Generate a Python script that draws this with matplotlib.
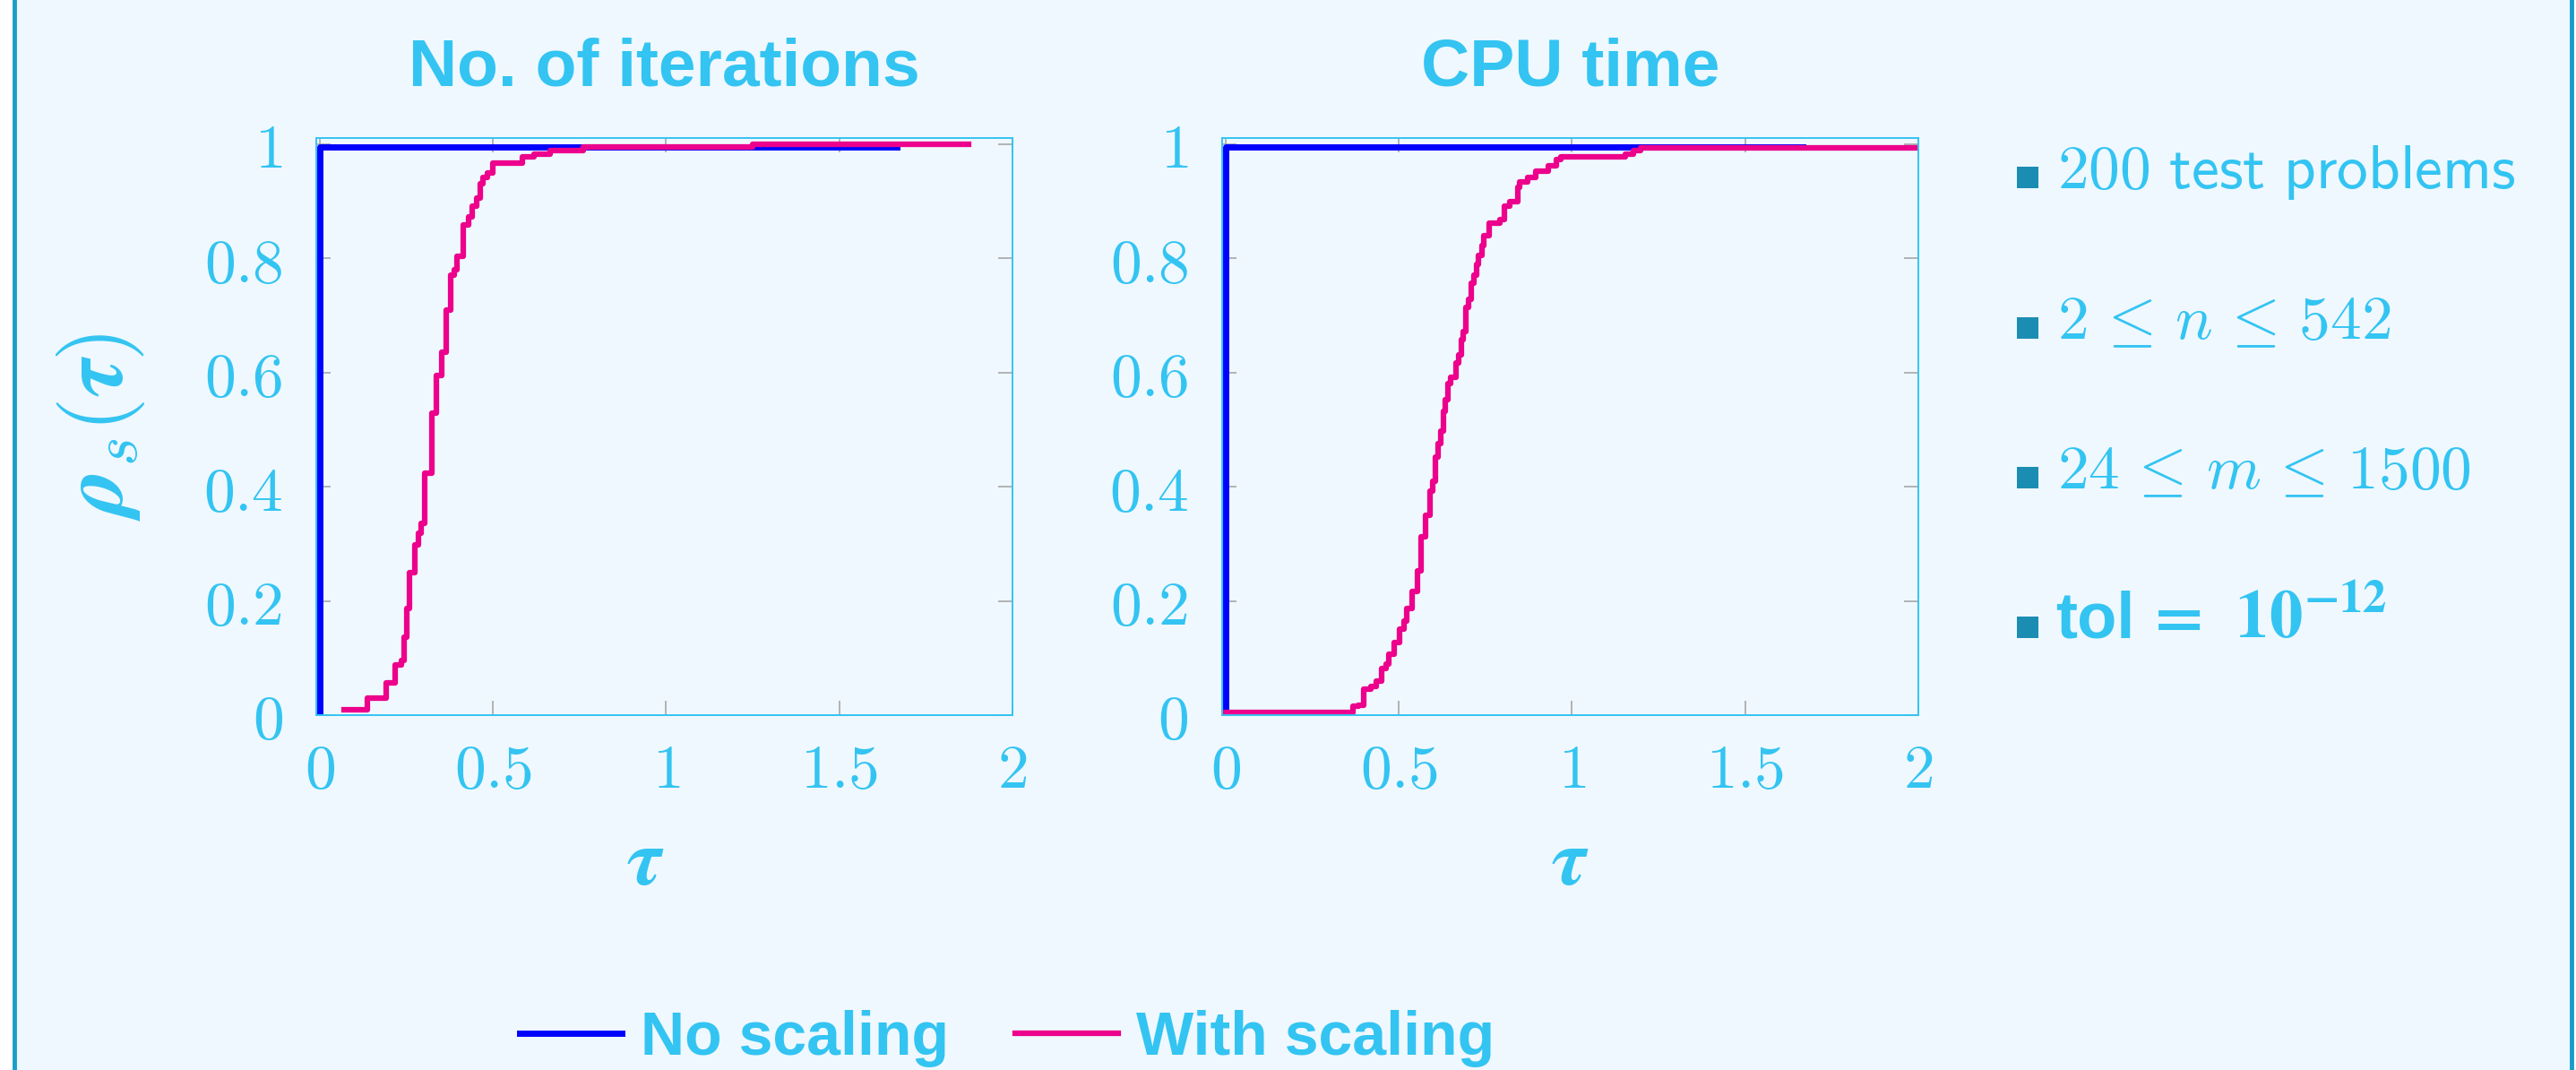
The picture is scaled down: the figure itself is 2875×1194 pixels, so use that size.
import numpy as np
import matplotlib
matplotlib.use('Agg')
import matplotlib.pyplot as plt
from matplotlib.patches import Rectangle
from matplotlib.lines import Line2D

plt.rcParams['mathtext.fontset'] = 'cm'

# ---- data ----
titles = ['No. of iterations', 'CPU time']
series = ['No scaling', 'With scaling']

# no scaling: solves everything at tau = 0
nosc_tau = [0.0, 0.0, 1.665]
nosc_rho = [0.0, 0.995, 0.995]

# with scaling, iterations (step, post)
it_tau = [0.070, 0.137, 0.193, 0.218, 0.237, 0.243, 0.252, 0.260, 0.274, 0.285,
          0.292, 0.304, 0.323, 0.337, 0.352, 0.364, 0.377, 0.389, 0.396, 0.414,
          0.430, 0.441, 0.453, 0.463, 0.470, 0.485, 0.500, 0.585, 0.619, 0.666,
          0.760, 1.250, 1.872]
it_rho = [0.010, 0.030, 0.057, 0.088, 0.095, 0.137, 0.186, 0.249, 0.298, 0.319,
          0.336, 0.424, 0.529, 0.594, 0.636, 0.710, 0.770, 0.780, 0.803, 0.859,
          0.873, 0.892, 0.906, 0.931, 0.941, 0.950, 0.966, 0.977, 0.983, 0.988,
          0.995, 1.000, 1.000]

# with scaling, cpu time (step, post)
cpu_tau = [0.000, 0.368, 0.383, 0.398, 0.420, 0.435, 0.450, 0.464, 0.472, 0.487,
           0.501, 0.516, 0.524, 0.539, 0.553, 0.565, 0.576, 0.591, 0.598, 0.605,
           0.613, 0.620, 0.628, 0.635, 0.642, 0.650, 0.665, 0.672, 0.680, 0.687,
           0.694, 0.702, 0.709, 0.717, 0.724, 0.731, 0.739, 0.746, 0.761, 0.791,
           0.806, 0.820, 0.843, 0.850, 0.872, 0.895, 0.932, 0.954, 0.969, 1.154,
           1.177, 1.199, 2.000]
cpu_rho = [0.005, 0.015, 0.018, 0.046, 0.050, 0.060, 0.081, 0.090, 0.106, 0.127,
           0.151, 0.165, 0.186, 0.217, 0.252, 0.312, 0.350, 0.392, 0.410, 0.452,
           0.476, 0.497, 0.532, 0.553, 0.581, 0.592, 0.616, 0.630, 0.658, 0.672,
           0.714, 0.728, 0.756, 0.770, 0.790, 0.805, 0.822, 0.840, 0.861, 0.868,
           0.892, 0.899, 0.924, 0.934, 0.941, 0.952, 0.962, 0.973, 0.978, 0.983,
           0.988, 0.993, 0.993]

xticks = [0, 0.5, 1, 1.5, 2]
xticklabels = ['0', '0.5', '1', '1.5', '2']
yticks = [0, 0.2, 0.4, 0.6, 0.8, 1]
yticklabels = ['0', '0.2', '0.4', '0.6', '0.8', '1']

notes = [r'$\mathsf{200\ test\ problems}$',
         r'$2\hspace{0.15}\leq\hspace{0.15}n\hspace{0.15}\leq\hspace{0.15}542$',
         r'$24\hspace{0.15}\leq\hspace{0.15}m\hspace{0.15}\leq\hspace{0.15}1500$']

# ---- style ----
BG = '#EFF8FE'
TXT = '#33C4F2'
BORDER = '#1A9DC8'
BULLET = '#1C8DB2'
BLUE = '#0000FF'
PINK = '#EC008C'
W, H = 2875, 1194

fig = plt.figure(figsize=(W / 100, H / 100), dpi=100)
fig.patch.set_facecolor('white')
fig.add_artist(Rectangle((14 / W, 0), (2871 - 14) / W, 1, transform=fig.transFigure,
                         facecolor=BG, edgecolor='none', zorder=0))
for xb in (16, 2870):
    fig.add_artist(Line2D([xb / W, xb / W], [0, 1], transform=fig.transFigure,
                          color=BORDER, lw=3.5, zorder=1))

axes = [fig.add_axes([353 / W, 1 - 798 / H, 777 / W, 644 / H]),
        fig.add_axes([1364 / W, 1 - 798 / H, 777 / W, 644 / H])]

data = [(it_tau, it_rho), (cpu_tau, cpu_rho)]
xlab_x = [(720 - 353) / 777, 0.5]
handles = []
for i, ax in enumerate(axes):
    ax.set_facecolor(BG)
    l1, = ax.plot(nosc_tau, nosc_rho, color=BLUE, lw=5)
    l2, = ax.step(data[i][0], data[i][1], where='post', color=PINK, lw=4.5)
    if i == 0:
        handles = [l1, l2]
    ax.set_xlim(-0.01, 2)
    ax.set_ylim(0, 1.0105)
    ax.set_xticks(xticks)
    ax.set_xticklabels(['$%s$' % s for s in xticklabels])
    ax.set_yticks(yticks)
    ax.set_yticklabels(['$%s$' % s for s in yticklabels])
    ax.tick_params(direction='in', top=True, right=True, length=11.5, width=1.1,
                   color='#A0A0A0', labelcolor=TXT, labelsize=50)
    ax.tick_params(axis='x', pad=20)
    ax.tick_params(axis='y', pad=27)
    for sp in ax.spines.values():
        sp.set_color(TXT)
        sp.set_linewidth(1.4)
    ax.set_title(titles[i], fontsize=54, fontweight='bold', family='Liberation Sans',
                 color=TXT, pad=42)
    ax.set_xlabel(r'$\boldsymbol{\tau}$', fontsize=64, color=TXT, va='center')
    ax.xaxis.set_label_coords(xlab_x[i], (798 - 963) / 644)

axes[0].set_ylabel(r'$\boldsymbol{\rho}_s(\boldsymbol{\tau})$', fontsize=71,
                   color=TXT, va='center')
axes[0].yaxis.set_label_coords((112 - 353) / 777, 0.5)

# notes on the right
baselines = [210, 378, 545, 712]
for k, yb in enumerate(baselines):
    fig.add_artist(Rectangle((2251 / W, 1 - yb / H), 24 / W, 24 / H,
                             transform=fig.transFigure, facecolor=BULLET,
                             edgecolor='none', zorder=3))
    if k < 3:
        fig.text(2296 / W, 1 - yb / H, notes[k], fontsize=50, color=TXT, va='baseline')

t_tol = fig.text(2294 / W, 1 - baselines[3] / H, 'tol', fontsize=52, fontweight='bold',
                 family='Liberation Sans', color=TXT, va='baseline')
axes[1].annotate(r'$\mathbf{=}\;\,\mathbf{10^{-12}}$', xy=(1, 0), xycoords=t_tol,
                 xytext=(8, 0), textcoords='offset points', va='bottom', ha='left',
                 fontsize=54, family='Liberation Sans', math_fontfamily='stix',
                 color=TXT, annotation_clip=False)

fig.legend(handles=handles, labels=series, loc='center',
           bbox_to_anchor=(1124 / W, 1 - 1159 / H), ncol=2, frameon=False,
           prop={'family': 'Liberation Sans', 'weight': 'bold', 'size': 49},
           handlelength=1.68, handletextpad=0.3, columnspacing=1.1, labelcolor=TXT)

fig.savefig('out.png', dpi=100, facecolor=fig.get_facecolor())
